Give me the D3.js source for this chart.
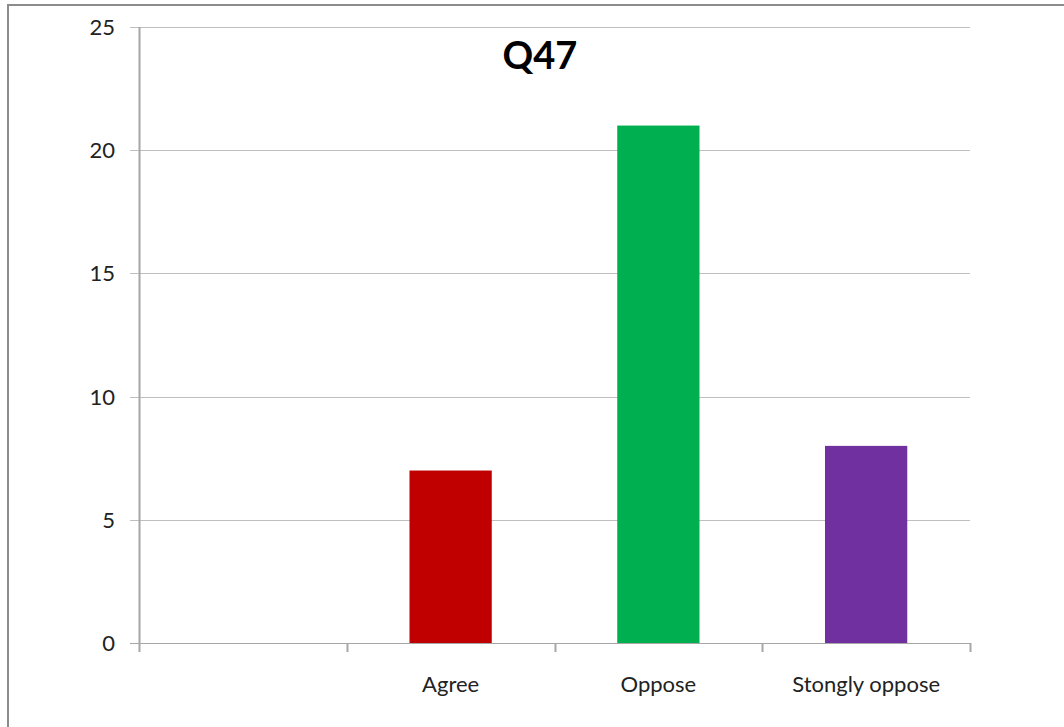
<!DOCTYPE html>
<html>
<head>
<meta charset="utf-8">
<script src="https://cdn.jsdelivr.net/npm/d3@7"></script>
<style>
  html, body { margin: 0; padding: 0; background: #fff; }
  svg { display: block; }
</style>
</head>
<body>
<script>
// Survey responses for question 47
const categories = ["", "Agree", "Oppose", "Stongly oppose"];
const counts = [0, 7, 21, 8];
const barColors = ["#4F81BD", "#C00000", "#00B050", "#7030A0"];
const yTicks = [0, 5, 10, 15, 20, 25];
const title = "Q47";

const W = 1064, H = 727;
const margin = { left: 139, right: 94, top: 27, bottom: 84 };

const svg = d3.select("body").append("svg")
  .attr("width", W).attr("height", H);

svg.append("rect").attr("width", W).attr("height", H).attr("fill", "#fff");

// Outer chart frame (top and left edges visible)
svg.append("line").attr("x1", 7).attr("x2", W).attr("y1", 5).attr("y2", 5)
  .attr("stroke", "#8c8c8c").attr("stroke-width", 2);
svg.append("line").attr("x1", 8).attr("x2", 8).attr("y1", 4).attr("y2", H)
  .attr("stroke", "#8c8c8c").attr("stroke-width", 2);

const x = d3.scaleBand()
  .domain(categories)
  .range([margin.left, W - margin.right])
  .paddingInner(0.604)
  .paddingOuter(0.302);

const y = d3.scaleLinear()
  .domain([0, 25])
  .range([H - margin.bottom, margin.top]);

const font = "Lato, 'Open Sans', sans-serif";

// Horizontal gridlines
svg.append("g")
  .selectAll("line")
  .data(yTicks)
  .join("line")
  .attr("x1", margin.left - 9)
  .attr("x2", W - margin.right)
  .attr("y1", d => Math.round(y(d)) + 0.5)
  .attr("y2", d => Math.round(y(d)) + 0.5)
  .attr("stroke", d => d === 0 ? "#a6a6a6" : "#bfbfbf")
  .attr("stroke-width", 1);

// Y axis line
svg.append("line")
  .attr("x1", margin.left + 0.5).attr("x2", margin.left + 0.5)
  .attr("y1", y(25)).attr("y2", y(0))
  .attr("stroke", "#a6a6a6").attr("stroke-width", 2);

// Y tick labels
svg.append("g")
  .selectAll("text")
  .data(yTicks)
  .join("text")
  .attr("x", 115)
  .attr("y", d => y(d) + 8)
  .attr("text-anchor", "end")
  .attr("font-family", font)
  .attr("font-size", 22)
  .attr("fill", "#222")
  .text(d => d);

// Bars
svg.append("g")
  .selectAll("rect")
  .data(categories.map((c, i) => ({ c, v: counts[i], color: barColors[i] })))
  .join("rect")
  .attr("x", d => x(d.c))
  .attr("width", x.bandwidth())
  .attr("y", d => y(d.v))
  .attr("height", d => y(0) - y(d.v))
  .attr("fill", d => d.color);

// X axis tick marks at category boundaries
const step = x.step();
const boundaries = d3.range(categories.length + 1).map(i => margin.left + i * step);
svg.append("g")
  .selectAll("line")
  .data(boundaries)
  .join("line")
  .attr("x1", d => Math.round(d) + 0.5)
  .attr("x2", d => Math.round(d) + 0.5)
  .attr("y1", y(0))
  .attr("y2", y(0) + 9)
  .attr("stroke", "#a6a6a6")
  .attr("stroke-width", 2);

// X category labels
svg.append("g")
  .selectAll("text")
  .data(categories)
  .join("text")
  .attr("x", d => x(d) + x.bandwidth() / 2)
  .attr("y", 692)
  .attr("text-anchor", "middle")
  .attr("font-family", font)
  .attr("font-size", 22)
  .attr("fill", "#222")
  .text(d => d);

// Title
svg.append("text")
  .attr("x", 540)
  .attr("y", 69)
  .attr("text-anchor", "middle")
  .attr("font-family", font)
  .attr("font-weight", "bold")
  .attr("font-size", 38)
  .attr("fill", "#000")
  .text(title);
</script>
</body>
</html>
